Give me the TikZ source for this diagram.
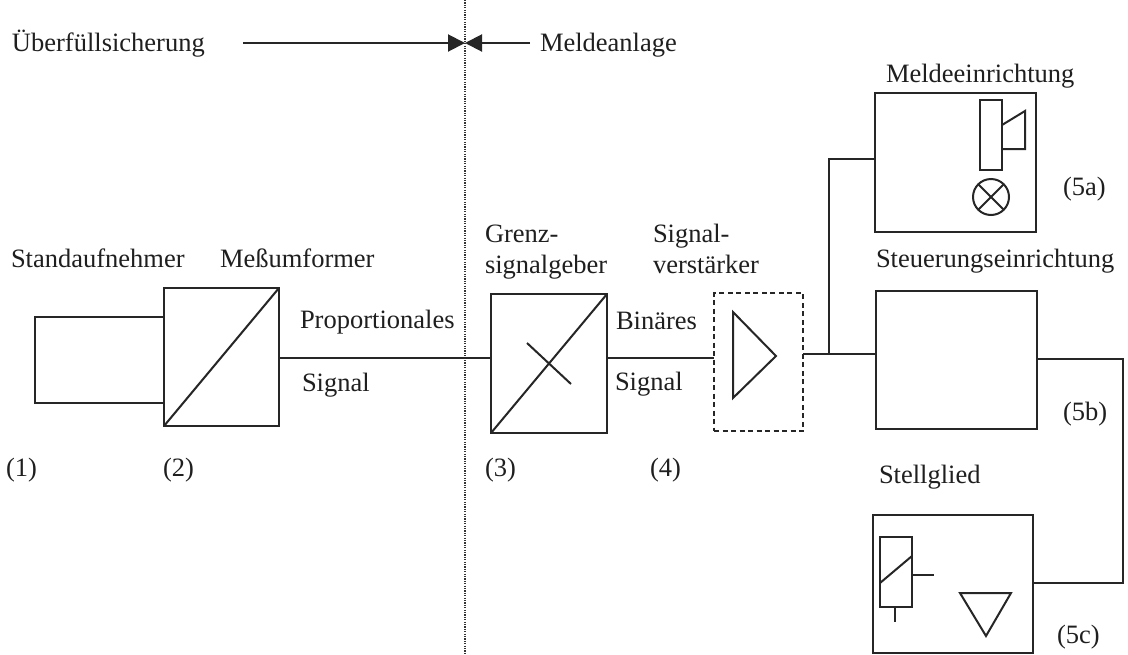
\documentclass[tikz,border=0pt]{standalone}
\usepackage{fontspec}
\setmainfont{Liberation Serif}
\usetikzlibrary{arrows.meta}
\begin{document}
\begin{tikzpicture}[x=1pt,y=-1pt,
  line width=1.9pt, line join=miter,
  every node/.style={inner sep=0pt, outer sep=0pt},
  lbl/.style={anchor=base west, font=\fontsize{26.5}{31}\selectfont, text=black!88},
  blk/.style={draw=black!85, rectangle, line width=1.9pt},
  dashbox/.style={draw=black!85, rectangle, line width=1.9pt, dash pattern=on 5pt off 3.5pt},
  wire/.style={draw=black!85, line width=1.8pt},
  sym/.style={draw=black!85, line width=2pt},
  dotline/.style={draw=black!80, line width=1.5pt, dash pattern=on 1.2pt off 1.2pt},
  arr/.style={draw=black!85, line width=2pt, -{Triangle[length=17pt,width=17pt]}}
]
\useasboundingbox (0,0) rectangle (1128,654);
\fill[white] (0,0) rectangle (1128,654);

% --- top header ---
\node[lbl] (tueber) at (12,51) {Überfüllsicherung};
\node[lbl] (tmelde) at (540,51) {Meldeanlage};
\coordinate (dt) at (465,0);
\coordinate (db) at (465,654);
\coordinate (dv) at (465,43);
\coordinate (al) at (243,43);
\coordinate (ar) at (530,43);
\draw[dotline] (dt) -- (db);
\draw[arr] (al) -- (dv);
\draw[arr] (ar) -- (dv);

% --- blocks ---
\node[blk, minimum width=129pt, minimum height=86pt] (sa) at (99.5,360) {};
\node[blk, minimum width=115pt, minimum height=138pt] (mu) at (221.5,357) {};
\node[blk, minimum width=116pt, minimum height=139pt] (gs) at (549,363.5) {};
\node[dashbox, minimum width=89pt, minimum height=138pt] (sv) at (758.5,362) {};
\node[blk, minimum width=161pt, minimum height=139pt] (me) at (955.5,162.5) {};
\node[blk, minimum width=161pt, minimum height=138pt] (st) at (956.5,360) {};
\node[blk, minimum width=160pt, minimum height=138pt] (sg) at (953,584) {};

% symbols inside blocks
\draw[sym] (mu.south west) -- (mu.north east);
\draw[sym] (gs.south west) -- (gs.north east);
\draw[sym] (527,343) -- (571,384);
\draw[sym] (733,312) -- (733,398) -- (776,356) -- cycle;
% Meldeeinrichtung: horn and lamp
\draw[sym] (980,100) rectangle (1002,170);
\draw[sym] (1002,125) -- (1025,111) -- (1025,149) -- (1002,149);
\draw[sym] (991,197) circle (18pt);
\draw[sym] (978.3,184.3) -- (1003.7,209.7);
\draw[sym] (978.3,209.7) -- (1003.7,184.3);
% Stellglied: valve drive and valve
\draw[sym] (880,537) rectangle (912,607);
\draw[sym] (880,583) -- (912,556);
\draw[sym] (912,575) -- (934,575);
\draw[sym] (895,607) -- (895,622);
\draw[sym] (960,593) -- (1011,593) -- (986,636) -- cycle;

% --- connectors ---
\coordinate (l1) at (0,358);
\coordinate (l2) at (0,354);
\coordinate (j) at (829,354);
\coordinate (l3) at (0,159);
\coordinate (l4) at (1123,359);
\coordinate (l5) at (1123,583);
\draw[wire] (mu.east |- l1) -- (gs.west |- l1);
\draw[wire] (gs.east |- l1) -- (sv.west |- l1);
\draw[wire] (sv.east |- l2) -- (st.west |- l2);
\draw[wire] (j) |- (me.west |- l3);
\draw[wire] (st.east |- l4) -- (l4) -- (l5) -- (sg.east |- l5);

% --- labels ---
\node[lbl] (tsa) at (11,267) {Standaufnehmer};
\node[lbl] (tmu) at (220,267) {Meßumformer};
\node[lbl] (tpr) at (300,328) {Proportionales};
\node[lbl] (tsi1) at (302,391) {Signal};
\node[lbl] (tgr1) at (485,242) {Grenz-};
\node[lbl] (tgr2) at (485,273) {signalgeber};
\node[lbl] (tsv1) at (653,242) {Signal-};
\node[lbl] (tsv2) at (653,273) {verstärker};
\node[lbl] (tbi) at (616,329) {Binäres};
\node[lbl] (tsi2) at (615,390) {Signal};
\node[lbl] (tme) at (886,82) {Meldeeinrichtung};
\node[lbl] (t5a) at (1063,195) {(5a)};
\node[lbl] (tst) at (876,267) {Steuerungseinrichtung};
\node[lbl] (t5b) at (1063,420) {(5b)};
\node[lbl] (tsg) at (879,483) {Stellglied};
\node[lbl] (t5c) at (1057,643) {(5c)};
\node[lbl] (t1) at (6,476) {(1)};
\node[lbl] (t2) at (163,476) {(2)};
\node[lbl] (t3) at (485,476) {(3)};
\node[lbl] (t4) at (650,476) {(4)};
\end{tikzpicture}
\end{document}
